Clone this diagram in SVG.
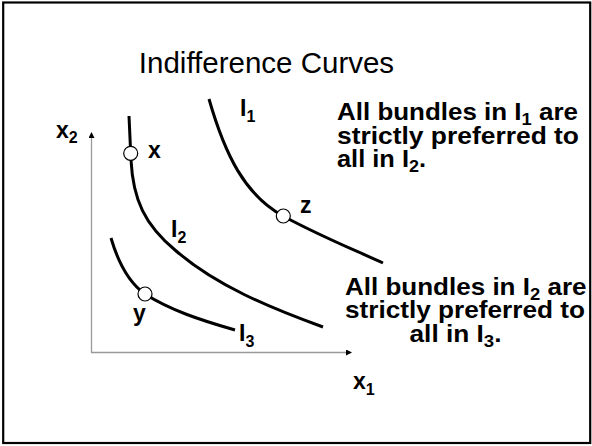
<svg xmlns="http://www.w3.org/2000/svg" width="592" height="446" viewBox="0 0 592 446">
<style>
text{font-family:"Liberation Sans",Arial,sans-serif;fill:#000}
.t{font-size:29.5px}
.b{font-weight:bold;font-size:23px}
.n{font-weight:bold;font-size:24px}
.s{font-size:16px}
.ns{font-size:17px}
.curve{fill:none;stroke:#000;stroke-width:3}
.axis{fill:none;stroke:#999;stroke-width:1.3}
.pt{fill:#fff;stroke:#000;stroke-width:1.2}
</style>
<defs>
<marker id="ah" markerWidth="6" markerHeight="6" refX="5" refY="3" orient="auto" markerUnits="userSpaceOnUse">
<path d="M0,0 L6,3 L0,6 Z" fill="#000"/>
</marker>
</defs>
<rect x="3.2" y="2.5" width="587" height="440.5" fill="#fff" stroke="#000" stroke-width="2.2"/>
<text class="t" x="266.5" y="73" text-anchor="middle">Indifference Curves</text>
<g id="axes">
<path class="axis" d="M91.5,353 L91.5,133" marker-end="url(#ah)"/>
<path class="axis" d="M91,352.5 L351,352.5" marker-end="url(#ah)"/>
<text class="b" x="56" y="138">x<tspan class="s" dy="5">2</tspan></text>
<text class="b" x="353" y="389">x<tspan class="s" dy="6">1</tspan></text>
</g>
<g id="connectors">
<path id="I1" class="curve" d="M209,99 C225,155 245,195 283,216 C320,236 350,248 383,263"/>
<path id="I2" class="curve" d="M129,116 L131,160 C133,200 145,225 175,250 C215,285 270,308 323,327"/>
<path id="I3" class="curve" d="M111,238 C118,262 128,282 145,294 C170,310 200,320 235,330"/>
</g>
<g id="point-x">
<circle class="pt" cx="130.7" cy="153.3" r="7"/>
<text class="b" x="148" y="158">x</text>
</g>
<g id="point-z">
<circle class="pt" cx="283.3" cy="216" r="7"/>
<text class="b" x="300" y="213">z</text>
</g>
<g id="point-y">
<circle class="pt" cx="145" cy="294" r="7"/>
<text class="b" x="133" y="321">y</text>
</g>
<g id="label-I1"><text class="b" x="240" y="116">I<tspan class="s" dy="6">1</tspan></text></g>
<g id="label-I2"><text class="b" x="171" y="237">I<tspan class="s" dy="6">2</tspan></text></g>
<g id="label-I3"><text class="b" x="239" y="341">I<tspan class="s" dy="6">3</tspan></text></g>
<g id="note-1">
<text class="n" x="337" y="120" textLength="241" lengthAdjust="spacingAndGlyphs">All bundles in I<tspan class="ns" dy="5">1</tspan><tspan dy="-5"> are</tspan></text>
<text class="n" x="337" y="143.5" textLength="242" lengthAdjust="spacingAndGlyphs">strictly preferred to</text>
<text class="n" x="337" y="167" textLength="89" lengthAdjust="spacingAndGlyphs">all in I<tspan class="ns" dy="5">2</tspan><tspan dy="-5">.</tspan></text>
</g>
<g id="note-2">
<text class="n" x="345" y="295" textLength="241.5" lengthAdjust="spacingAndGlyphs">All bundles in I<tspan class="ns" dy="5">2</tspan><tspan dy="-5"> are</tspan></text>
<text class="n" x="345" y="318" textLength="240" lengthAdjust="spacingAndGlyphs">strictly preferred to</text>
<text class="n" x="409.5" y="341.7" textLength="92" lengthAdjust="spacingAndGlyphs">all in I<tspan class="ns" dy="5">3</tspan><tspan dy="-5">.</tspan></text>
</g>
</svg>
